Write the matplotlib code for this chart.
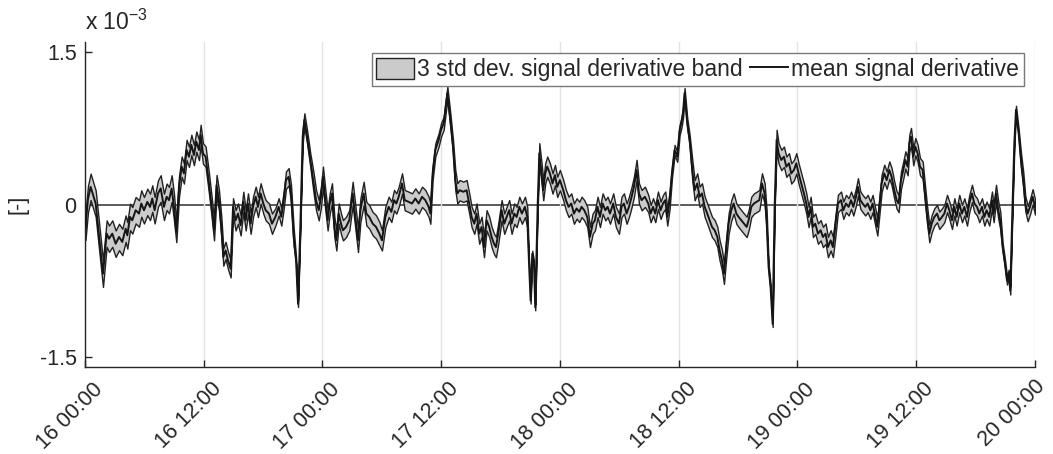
import matplotlib.pyplot as plt
import matplotlib.dates as mdates
import matplotlib.transforms as mtransforms
import numpy as np
from datetime import datetime, timedelta

plt.rcParams['font.family'] = ['Liberation Sans', 'DejaVu Sans']
plt.rcParams['mathtext.fontset'] = 'custom'
plt.rcParams['mathtext.rm'] = 'Liberation Sans'

# hours since 16 00:00 and mean signal derivative (x 10^-3)
hours = [
    0.05, 0.30, 0.57, 1.08, 1.82, 2.19, 2.43, 2.76, 3.10, 3.44, 3.77, 4.11, 4.28, 4.55, 4.78,
    5.12, 5.46, 5.69, 5.96, 6.30, 6.57, 6.80, 7.04, 7.38, 7.65, 7.98, 8.25, 8.49, 8.76, 8.99,
    9.23, 9.50, 9.77, 10.00, 10.27, 10.51, 10.75, 11.01, 11.25, 11.52, 11.69, 11.92, 12.19,
    12.53, 12.80, 13.04, 13.30, 13.54, 13.78, 13.98, 14.21, 14.45, 14.72, 14.96, 15.22, 15.46,
    15.73, 16.00, 16.24, 16.47, 16.74, 16.98, 17.25, 17.48, 17.75, 18.02, 18.26, 18.59,
    18.90, 19.24, 19.57, 19.84, 20.08, 20.31, 20.58, 20.82, 21.09, 21.33, 21.53, 21.76, 22.00,
    22.17, 22.44, 22.77, 23.11, 23.35, 23.62, 23.85, 24.05, 24.29, 24.52, 24.73, 24.96, 25.20,
    25.40, 25.64, 25.87, 26.07, 26.38, 26.71, 27.05, 27.32, 27.59, 27.83, 28.16, 28.43, 28.73,
    29.07, 29.41, 29.75, 30.01, 30.35, 30.69, 30.96, 31.23, 31.46, 31.70, 32.04, 32.31, 32.71,
    33.05, 33.38, 33.72, 34.06, 34.39, 34.73, 34.90, 35.13, 35.40, 35.74, 35.98, 36.25, 36.41,
    36.62, 36.92, 37.19, 37.42, 37.63, 37.86,
    38.23, 38.56, 38.83, 39.07, 39.34, 39.57, 39.84, 40.08, 40.32, 40.58, 40.85, 41.09, 41.33,
    41.53, 41.76, 42.10, 42.37, 42.61, 42.87, 43.11, 43.38, 43.62, 43.89, 44.15, 44.46, 44.69,
    44.86, 45.03, 45.20, 45.37, 45.50, 45.74, 45.91, 46.14, 46.31, 46.51, 46.71, 46.98, 47.25,
    47.49, 47.72, 47.99, 48.33, 48.60, 48.87, 49.14, 49.41, 49.68, 49.95, 50.18, 50.45, 50.76,
    51.03, 51.30, 51.53, 51.80, 52.04, 52.31, 52.58, 52.81, 53.05, 53.38, 53.65, 53.96, 54.22,
    54.46, 54.73, 54.97, 55.24, 55.47, 55.74, 55.98, 56.25, 56.58, 56.92,
    57.16, 57.40, 57.63, 57.90, 58.17, 58.41, 58.64, 58.84, 59.08, 59.31, 59.58, 59.85, 60.09,
    60.26, 60.43, 60.59, 60.86, 61.10, 61.37, 61.61, 61.87, 62.11, 62.35, 62.62, 62.88, 63.12,
    63.36, 63.63, 63.90, 64.13, 64.37, 64.57, 64.81, 65.04, 65.31, 65.55, 65.82, 66.05, 66.32,
    66.59, 66.86, 67.06, 67.33, 67.60, 67.87, 68.14, 68.41, 68.68, 68.88, 69.08, 69.28, 69.49,
    69.69, 69.89, 70.09, 70.36, 70.63, 70.87, 71.14, 71.37, 71.64, 71.88, 72.11, 72.38, 72.65,
    72.89, 73.12, 73.33, 73.56, 73.80, 74.07, 74.34, 74.57, 74.84, 75.08, 75.35, 75.58, 75.82,
    76.09,
    76.40, 76.63, 76.90, 77.17, 77.41, 77.64, 77.91, 78.11, 78.35, 78.58, 78.85, 79.09, 79.36,
    79.59, 79.86, 80.07, 80.27, 80.50, 80.77, 81.01, 81.28, 81.51, 81.78, 82.02, 82.22, 82.46,
    82.69, 82.90, 83.13, 83.30, 83.47, 83.70, 83.91, 84.14, 84.38, 84.65, 84.88, 85.08, 85.32,
    85.56, 85.83, 86.10, 86.33, 86.60, 86.84, 87.11, 87.34, 87.61, 87.85, 88.08, 88.35, 88.62,
    88.86, 89.13, 89.36, 89.63, 89.87, 90.14, 90.37, 90.64, 90.88, 91.11, 91.38, 91.65, 91.82,
    92.06, 92.29, 92.49, 92.73, 92.97, 93.17, 93.34, 93.50, 93.67, 93.91, 94.08, 94.35, 94.58,
    94.82, 95.02, 95.26, 95.49, 95.76, 96.00,
]
mean_e3 = [
    -0.220, 0.050, 0.174, 0.010, -0.680, -0.286, -0.336, -0.286, -0.385, -0.319, -0.368, -0.237,
    -0.303, -0.122, -0.155,
    -0.056, -0.089, 0.010, -0.056, 0.026, -0.023, 0.059, -0.056, 0.109, 0.158, -0.023, 0.076,
    0.043, 0.158, -0.023,
    -0.270, 0.174, 0.372, 0.306, 0.536, 0.470, 0.586, 0.487, 0.618, 0.536, 0.684, 0.503, 0.470,
    0.207, -0.023, -0.253, 0.191, 0.043, -0.220, -0.516, -0.451, -0.549, -0.632, -0.023, -0.155,
    -0.089,
    -0.204, 0.026, -0.155, 0.010, -0.188, -0.023, 0.076, -0.023, 0.109, 0.010, -0.056, -0.089,
    -0.188, -0.122, -0.023, -0.122, 0.043, 0.240, 0.273, 0.109, -0.319, -0.549, -0.977, -0.220,
    0.668,
    0.832, 0.668, 0.438, 0.207, 0.043, -0.056, 0.076, 0.273, 0.043, -0.155, 0.010, 0.109, -0.220,
    -0.352, -0.089, -0.188, -0.253, -0.220, -0.155, 0.109, -0.122, -0.352, -0.056, 0.109, -0.089,
    -0.122,
    -0.188, -0.220, -0.286, -0.352, -0.122, -0.023, -0.072, 0.043, 0.010, 0.076, 0.207, 0.043,
    0.026,
    0.010, 0.059, 0.010, 0.076, 0.043, -0.023, -0.089, 0.306, 0.536, 0.635, 0.734, 0.799, 0.931,
    1.095, 0.832, 0.569, 0.240, 0.109, 0.141,
    0.125, 0.141, 0.010, -0.122, -0.188, -0.089, -0.286, -0.220, -0.418, -0.155, -0.220, -0.319,
    -0.385,
    -0.418, -0.286, -0.056, -0.188, -0.122, -0.056, -0.188, -0.089, -0.122, -0.023, -0.089,
    -0.023, -0.122,
    -0.549, -0.944, -0.484, -0.582, -1.010, -0.023, 0.503, 0.306, 0.141, 0.306, 0.372, 0.306,
    0.207,
    0.289, 0.174, 0.240, 0.141, 0.043, -0.023, 0.010, -0.089, -0.039, -0.072, -0.023, -0.056,
    -0.122,
    -0.319, -0.188, -0.155, -0.023, -0.122, 0.010, -0.056, -0.023, -0.089, 0.010, -0.122, -0.188,
    -0.023,
    0.010, -0.089, -0.023, 0.076, 0.174, 0.339, 0.109, 0.043, 0.076, 0.010,
    -0.089, -0.023, -0.089, 0.043, -0.056, 0.010, 0.043, -0.122, 0.043, 0.306, 0.536, 0.470,
    0.734,
    0.799, 0.898, 1.095, 0.799, 0.635, 0.339, 0.141, 0.207, 0.076, 0.109, -0.023, -0.089, -0.155,
    -0.220, -0.253, -0.319, -0.451, -0.549, -0.681, -0.418, -0.188, -0.056, 0.010, -0.089,
    -0.122, -0.155,
    -0.188, -0.220, -0.155, -0.023, 0.010, 0.026, 0.043, 0.207, 0.109, -0.155, -0.615, -0.813,
    -1.174,
    -0.023, 0.635, 0.503, 0.438, 0.470, 0.372, 0.405, 0.306, 0.339, 0.405, 0.306, 0.207, 0.109,
    0.010, -0.122, -0.023, -0.220, -0.188, -0.286, -0.253, -0.319, -0.286, -0.418, -0.352,
    -0.418, -0.220,
    0.010,
    0.043, -0.056, 0.010, -0.023, 0.043, -0.023, 0.076, 0.174, 0.043, 0.010, -0.023, 0.010,
    -0.056,
    0.010, -0.122, -0.220, -0.023, 0.207, 0.306, 0.240, 0.339, 0.273, 0.141, 0.043, 0.010, 0.240,
    0.339, 0.438, 0.372, 0.602, 0.668, 0.470, 0.569, 0.503, 0.372, 0.339, 0.109, -0.089, -0.286,
    -0.188, -0.122, -0.089, -0.155, -0.122, -0.089, 0.010, -0.056, -0.155, -0.023, -0.122, 0.010,
    -0.089,
    -0.023, -0.122, 0.010, 0.109, 0.010, -0.023, -0.089, -0.023, -0.122, -0.056, -0.122, 0.043,
    -0.089,
    0.109, -0.056, -0.155, -0.418, -0.582, -0.747, -0.681, -0.845, -0.220, 0.602, 0.931, 0.701,
    0.438,
    0.240, 0.010, -0.089, -0.023, 0.076, -0.023,
]

# 3 std half-width of the band (x 10^-3), per time segment starting at the given hour
band_start_h = [0, 9.2, 13.9, 15.0, 19.0, 21.3, 21.8, 22.8, 27.0, 30.0, 35.0, 37.4, 44.8, 45.8,
                56.9, 59.3, 61.2, 68.9, 69.8, 76.0, 92.6, 94.5]
band_half_e3 = [0.13, 0.10, 0.085, 0.10, 0.085, 0.03, 0.065, 0.10, 0.115, 0.10, 0.065, 0.10,
                0.03, 0.10, 0.085, 0.05, 0.10, 0.03, 0.10, 0.085, 0.04, 0.075]

t0 = datetime(2021, 3, 16)
times = [t0 + timedelta(hours=h) for h in hours]
mean = np.array(mean_e3)
half = np.array(band_half_e3)[np.searchsorted(band_start_h, hours, side='right') - 1]

fs_tick = 15.5
fs_leg = 16.5
fig = plt.figure(figsize=(10.53, 4.54), dpi=100)
ax = fig.add_axes([0.0807, 0.191, 0.9022, 0.717])

dark = '#262626'
ax.grid(axis='x', color='#e3e3e3', lw=1.0)
ax.axhline(0, color='#404040', lw=1.2, zorder=1)
ax.fill_between(times, mean - half, mean + half, facecolor='#cbcbcb', edgecolor='#222222',
                lw=1.0, label='3 std dev. signal derivative band', zorder=2)
ax.plot(times, mean, color='#151515', lw=1.4, label='mean signal derivative', zorder=3)

ax.set_xlim(t0, t0 + timedelta(hours=96))
ax.set_ylim(-1.6, 1.6)
ax.set_yticks([-1.5, 0, 1.5])
ax.set_yticklabels(['-1.5', '0', '1.5'])
ax.xaxis.set_major_locator(mdates.HourLocator(byhour=[0, 12]))
ax.xaxis.set_major_formatter(mdates.DateFormatter('%d %H:%M'))

for s in ['top', 'right']:
    ax.spines[s].set_visible(False)
for s in ['left', 'bottom']:
    ax.spines[s].set_color(dark)
    ax.spines[s].set_linewidth(1.0)

ax.tick_params(direction='in', length=5, width=1, colors=dark, labelsize=fs_tick, pad=6)
fig.canvas.draw()
xlabels = ax.get_xticklabels()
shift = mtransforms.ScaledTranslation(7 / 100, -3 / 100, fig.dpi_scale_trans)
for i, lab in enumerate(xlabels):
    lab.set_rotation(45)
    lab.set_ha('right')
    lab.set_va('top')
    lab.set_rotation_mode('anchor')
    if i < len(xlabels) - 1:
        lab.set_transform(lab.get_transform() + shift)

ax.set_ylabel('[-]', fontsize=fs_tick, color=dark, labelpad=8)
ax.text(0.0, 1.02, r'x 10$^{-3}$', transform=ax.transAxes, fontsize=fs_leg, color=dark,
        ha='left', va='bottom')

leg = ax.legend(loc='upper right', bbox_to_anchor=(0.988, 0.965), borderaxespad=0, ncol=2,
                fontsize=fs_leg, frameon=True, fancybox=False, framealpha=1, edgecolor='#7a7a7a',
                handlelength=1.65, handleheight=1.05, handletextpad=0.15, columnspacing=0.3,
                borderpad=0.2)
leg.get_frame().set_linewidth(1.0)
for t in leg.get_texts():
    t.set_color(dark)

fig.savefig('out.png', dpi=100)
